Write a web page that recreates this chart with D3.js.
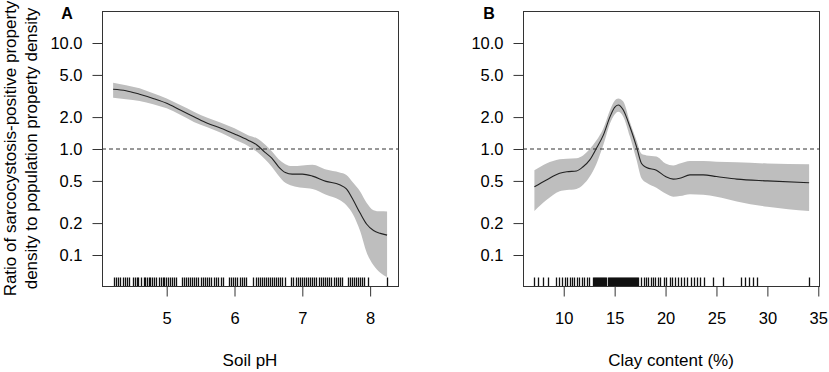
<!DOCTYPE html>
<html>
<head>
<meta charset="utf-8">
<title>Sarcocystosis ratio</title>
<script src="https://cdn.jsdelivr.net/npm/d3@7"></script>
<style>
  body { margin: 0; background: #fff; }
  text { font-family: "Liberation Sans", Arial, sans-serif; fill: #000; }
</style>
</head>
<body>
<script>
// ---- data ----
var yTicks = [0.1, 0.2, 0.5, 1.0, 2.0, 5.0, 10.0];

// panel A : soil pH
var phX     = [4.21, 4.4, 4.6, 4.8, 5.0, 5.2, 5.4, 5.6, 5.8, 6.0, 6.2, 6.33, 6.45, 6.55, 6.65, 6.75, 6.85, 7.0, 7.15, 7.35, 7.55, 7.65, 7.75, 7.85, 7.95, 8.05, 8.15, 8.25];
var phMean  = [3.66, 3.55, 3.28, 3.0, 2.7, 2.33, 2.02, 1.75, 1.57, 1.385, 1.21, 1.09, 0.93, 0.82, 0.68, 0.6, 0.58, 0.58, 0.555, 0.495, 0.46, 0.42, 0.33, 0.25, 0.195, 0.17, 0.16, 0.154];
var phUpper = [4.22, 4.0, 3.74, 3.35, 3.0, 2.6, 2.25, 1.97, 1.77, 1.57, 1.35, 1.26, 1.1, 0.95, 0.8, 0.72, 0.69, 0.7, 0.71, 0.64, 0.6, 0.57, 0.48, 0.4, 0.31, 0.265, 0.258, 0.257];
var phLower = [3.05, 2.95, 2.84, 2.65, 2.42, 2.1, 1.8, 1.6, 1.42, 1.23, 1.07, 0.94, 0.8, 0.68, 0.56, 0.48, 0.45, 0.43, 0.42, 0.37, 0.33, 0.295, 0.24, 0.17, 0.105, 0.08, 0.068, 0.062];
var phTicks = [5, 6, 7, 8];
var phRug = [4.22, 4.25, 4.28, 4.31, 4.35, 4.38, 4.41, 4.45, 4.50, 4.53, 4.56, 4.58, 4.62, 4.66, 4.68, 4.71, 4.74, 4.76, 4.79, 4.81, 4.84, 4.88, 4.91, 4.94, 4.96, 4.99, 5.02, 5.05, 5.08, 5.11, 5.14,
             5.22, 5.25, 5.28, 5.31, 5.34, 5.37, 5.40, 5.43, 5.46, 5.50, 5.53, 5.57, 5.60, 5.63, 5.66, 5.70, 5.73, 5.76, 5.80, 5.83,
             5.92, 5.95, 5.98, 6.01, 6.04, 6.08, 6.11, 6.14, 6.17, 6.28, 6.31, 6.34, 6.37, 6.40, 6.43, 6.46, 6.49, 6.52, 6.55, 6.58, 6.61, 6.64, 6.67, 6.70, 6.74,
             6.83, 6.86, 6.90, 6.93, 6.96, 6.99, 7.02, 7.05, 7.08, 7.11, 7.14, 7.17, 7.20, 7.24, 7.27, 7.30, 7.33, 7.37, 7.40, 7.43, 7.46, 7.50, 7.53, 7.56, 7.59,
             7.67, 7.70, 7.73, 7.76, 7.79, 7.82, 7.85, 7.88, 7.91, 7.97, 8.25];

// panel B : clay content
var clayX     = [7.12, 8.3, 9.6, 10.3, 11.25, 11.9, 12.56, 13.2, 13.9, 14.55, 15.0, 15.35, 15.85, 16.5, 17.15, 17.64, 18.13, 19.1, 20.0, 20.75, 21.4, 22.4, 23.7, 25, 27, 30, 34.1];
var clayMean  = [0.44, 0.51, 0.59, 0.61, 0.62, 0.68, 0.79, 1.01, 1.36, 2.02, 2.47, 2.6, 2.33, 1.62, 1.05, 0.73, 0.67, 0.63, 0.55, 0.52, 0.53, 0.57, 0.57, 0.55, 0.52, 0.50, 0.48];
var clayUpper = [0.63, 0.73, 0.80, 0.81, 0.82, 0.87, 1.0, 1.2, 1.57, 2.33, 2.85, 3.0, 2.8, 1.8, 1.2, 0.90, 0.87, 0.85, 0.73, 0.70, 0.73, 0.77, 0.77, 0.76, 0.75, 0.73, 0.72];
var clayLower = [0.26, 0.33, 0.40, 0.41, 0.42, 0.46, 0.55, 0.72, 1.1, 1.75, 2.12, 2.25, 2.02, 1.31, 0.79, 0.53, 0.48, 0.43, 0.38, 0.355, 0.36, 0.375, 0.37, 0.355, 0.32, 0.285, 0.26];
var clayTicks = [10, 15, 20, 25, 30, 35];
var clayRug = [7.1, 7.5, 8.0, 8.5, 9.2, 9.5, 9.8, 10.1, 10.3, 10.6, 10.8, 11.0, 11.3, 11.5, 11.8, 12.0, 12.3, 12.5, 12.9,
               13.0, 13.1, 13.2, 13.3, 13.4, 13.5, 13.6, 13.7, 13.8, 13.9, 14.0, 14.1, 14.2, 14.3, 14.4, 14.5, 14.6, 14.7, 14.8, 14.9,
               15.0, 15.1, 15.2, 15.3, 15.4, 15.5, 15.6, 15.7, 15.8, 15.9, 16.0, 16.1, 16.2, 16.3, 16.4, 16.5, 16.6, 16.7, 16.8, 16.9, 17.0, 17.1, 17.2, 17.3,
               17.6, 17.9, 18.1, 18.3, 18.6, 18.8, 19.0, 19.3, 19.5, 19.8, 20.0, 20.4, 20.6, 20.9, 21.2, 21.5, 21.8, 22.1, 22.5, 22.8, 23.1, 23.4, 23.8,
               24.7, 25.6, 27.4, 27.8, 28.2, 28.6, 29.0, 34.1];

var W = 829, H = 372;
var svg = d3.select("body").append("svg").attr("width", W).attr("height", H);

var top_ = 11, bottom_ = 286;
var y = d3.scaleLog().domain([0.051, 20.04]).range([bottom_, top_]);

function drawPanel(p) {
    var x = d3.scaleLinear().domain(p.domain).range([p.left, p.right]);
    var g = svg.append("g");
    var pts = p.xs.map(function(v, i){ return {x: v, m: p.mean[i], lo: p.lower[i], hi: p.upper[i]}; });

    // confidence band
    g.append("path")
        .datum(pts)
        .attr("fill", "#bebebe")
        .attr("d", d3.area().curve(d3.curveMonotoneX)
            .x(function(d){ return x(d.x); })
            .y0(function(d){ return y(d.lo); })
            .y1(function(d){ return y(d.hi); }));

    // mean line
    g.append("path")
        .datum(pts)
        .attr("fill", "none")
        .attr("stroke", "#222")
        .attr("stroke-width", 1.1)
        .attr("d", d3.line().curve(d3.curveMonotoneX)
            .x(function(d){ return x(d.x); })
            .y(function(d){ return y(d.m); }));

    // reference line at ratio = 1
    g.append("line")
        .attr("x1", p.left).attr("x2", p.right)
        .attr("y1", y(1)).attr("y2", y(1))
        .attr("stroke", "#333").attr("stroke-dasharray", "4,3");

    // rug
    g.selectAll(".rug").data(p.rug).join("line")
        .attr("x1", function(d){ return Math.round(x(d)) + 0.5; })
        .attr("x2", function(d){ return Math.round(x(d)) + 0.5; })
        .attr("y1", bottom_).attr("y2", bottom_ - 8.5)
        .attr("stroke", "#111").attr("stroke-width", 1.3);

    // box
    g.append("rect")
        .attr("x", p.left + 0.5).attr("y", top_ + 0.5)
        .attr("width", p.right - p.left).attr("height", bottom_ - top_)
        .attr("fill", "none").attr("stroke", "#333");

    // y axis
    var ya = g.append("g").attr("transform", "translate(" + (p.left + 0.5) + ",0)")
        .call(d3.axisLeft(y).tickValues(yTicks).tickSize(10).tickPadding(10)
            .tickFormat(d3.format(".1f")));
    ya.select(".domain").remove();
    ya.selectAll("line").attr("stroke", "#333");
    ya.selectAll("text").attr("font-size", 16.5).attr("font-family", null).attr("fill", "#000");

    // x axis
    var xa = g.append("g").attr("transform", "translate(0," + (bottom_ + 0.5) + ")")
        .call(d3.axisBottom(x).tickValues(p.ticks).tickSize(10).tickPadding(16)
            .tickFormat(d3.format("d")));
    xa.select(".domain").remove();
    xa.selectAll("line").attr("stroke", "#333");
    xa.selectAll("text").attr("font-size", 16.5).attr("font-family", null).attr("fill", "#000");

    // axis title and panel letter
    g.append("text").attr("x", (p.left + p.right) / 2).attr("y", 366)
        .attr("text-anchor", "middle").attr("font-size", 17).text(p.title);
    g.append("text").attr("x", p.letterX).attr("y", 19)
        .attr("text-anchor", "middle").attr("font-size", 16).attr("font-weight", "bold").text(p.letter);
}

drawPanel({xs: phX, mean: phMean, upper: phUpper, lower: phLower, rug: phRug, ticks: phTicks,
           domain: [4.046, 8.411], left: 102, right: 398, title: "Soil pH", letter: "A", letterX: 67});
drawPanel({xs: clayX, mean: clayMean, upper: clayUpper, lower: clayLower, rug: clayRug, ticks: clayTicks,
           domain: [6.0, 35.07], left: 523, right: 819, title: "Clay content (%)", letter: "B", letterX: 489});

// shared y title
var yt = svg.append("text")
    .attr("transform", "translate(16,148.5) rotate(-90)")
    .attr("text-anchor", "middle").attr("font-size", 17);
yt.append("tspan").attr("x", 0).attr("y", 0).text("Ratio of sarcocystosis-positive property");
yt.append("tspan").attr("x", 0).attr("y", 21).text("density to population property density");
</script>
</body>
</html>
